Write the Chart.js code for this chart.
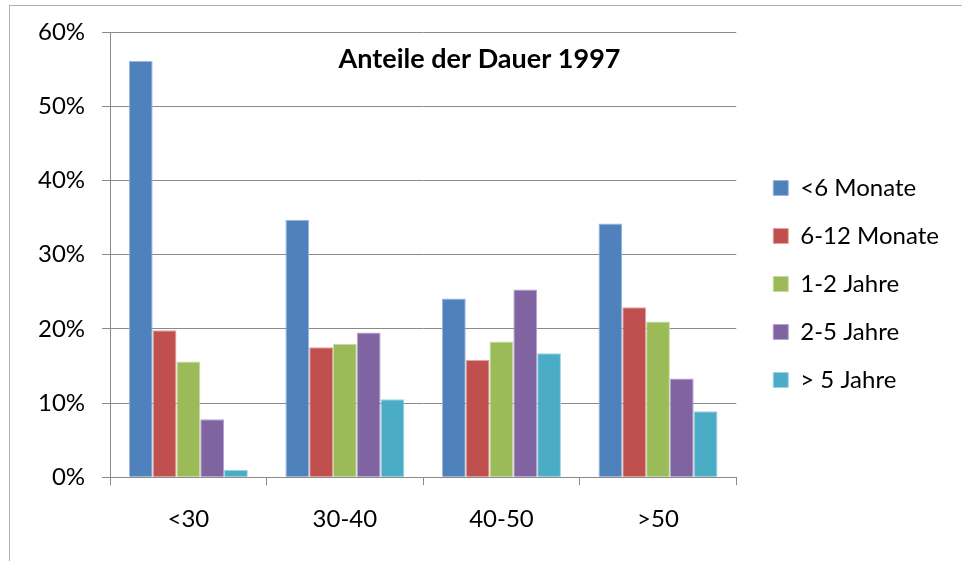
<!DOCTYPE html>
<html>
<head>
<meta charset="utf-8">
<script src="https://cdn.jsdelivr.net/npm/chart.js@4"></script>
<style>
  html, body { margin: 0; padding: 0; background: #fff; }
  #frame { position: absolute; left: 9px; top: 5px; width: 970px; height: 600px; border: 1px solid #b0b0b0; }
  #wrap { position: absolute; left: 0; top: 0; width: 962px; height: 561px; }
</style>
</head>
<body>
<div id="frame"></div>
<div id="wrap"><canvas id="chart"></canvas></div>
<script>
const categories = ['<30', '30-40', '40-50', '>50'];
const seriesNames = ['<6 Monate', '6-12 Monate', '1-2 Jahre', '2-5 Jahre', '> 5 Jahre'];
const lessThan6Months = [56.1, 34.7, 24.1, 34.2];
const months6to12 = [19.8, 17.5, 15.8, 22.9];
const years1to2 = [15.6, 18.0, 18.3, 21.0];
const years2to5 = [7.8, 19.5, 25.3, 13.3];
const moreThan5Years = [1.0, 10.5, 16.7, 8.9];
const yTicks = [0, 10, 20, 30, 40, 50, 60];
const colors = ['#4F81BD', '#C0504D', '#9BBB59', '#8064A2', '#4BACC6'];
const edges = ['#9bb7db', '#e2a3a1', '#c6dba0', '#b4a3cc', '#9dd3e2'];

const allSeries = [lessThan6Months, months6to12, years1to2, years2to5, moreThan5Years];

// Title is drawn inside the plot area, like in the original spreadsheet chart
const innerTitle = {
    id: 'innerTitle',
    afterDraw(chart) {
        const { ctx, chartArea } = chart;
        ctx.save();
        ctx.font = 'bold 27px Lato';
        ctx.fillStyle = '#000';
        ctx.textAlign = 'center';
        ctx.textBaseline = 'middle';
        ctx.fillText('Anteile der Dauer 1997', chartArea.left + chartArea.width * 0.59, chartArea.top + 27);
        ctx.restore();
    }
};

const ctx = document.getElementById('chart').getContext('2d');
const chart = new Chart(ctx, {
    type: 'bar',
    data: {
        labels: categories,
        datasets: allSeries.map((values, i) => ({
            label: seriesNames[i],
            data: values,
            backgroundColor: colors[i],
            borderColor: edges[i],
            borderWidth: 1,
            categoryPercentage: 0.76,
            barPercentage: 1
        }))
    },
    options: {
        responsive: true,
        maintainAspectRatio: false,
        animation: false,
        layout: { padding: { left: 21, right: 13, top: 32, bottom: 7 } },
        plugins: {
            title: { display: false },
            tooltip: { enabled: false },
            legend: {
                position: 'right',
                labels: {
                    color: '#000',
                    font: { family: 'Lato', size: 24 },
                    boxWidth: 15,
                    boxHeight: 15,
                    padding: 24
                }
            }
        },
        scales: {
            x: {
                grid: { drawOnChartArea: false, color: '#8a8a8a', tickLength: 8, offset: true },
                border: { color: '#8a8a8a', width: 1 },
                ticks: { color: '#000', font: { family: 'Lato', size: 24 }, padding: 20 }
            },
            y: {
                min: 0,
                max: 60,
                afterBuildTicks(axis) { axis.ticks = yTicks.map(v => ({ value: v })); },
                grid: { color: '#8a8a8a', tickLength: 8 },
                border: { color: '#8a8a8a', width: 1 },
                ticks: {
                    color: '#000',
                    font: { family: 'Lato', size: 24 },
                    padding: 17,
                    callback: v => v + '%'
                }
            }
        }
    },
    plugins: [innerTitle]
});

// wider gap between plot and legend, legend a bit higher
const legendFit = chart.legend.fit;
chart.legend.fit = function () { legendFit.call(this); this.width += 13; };
const legendDraw = chart.legend.draw;
chart.legend.draw = function () {
    this.ctx.save();
    this.ctx.translate(13, -9);
    legendDraw.call(this);
    this.ctx.restore();
};
chart.update();
</script>
</body>
</html>
